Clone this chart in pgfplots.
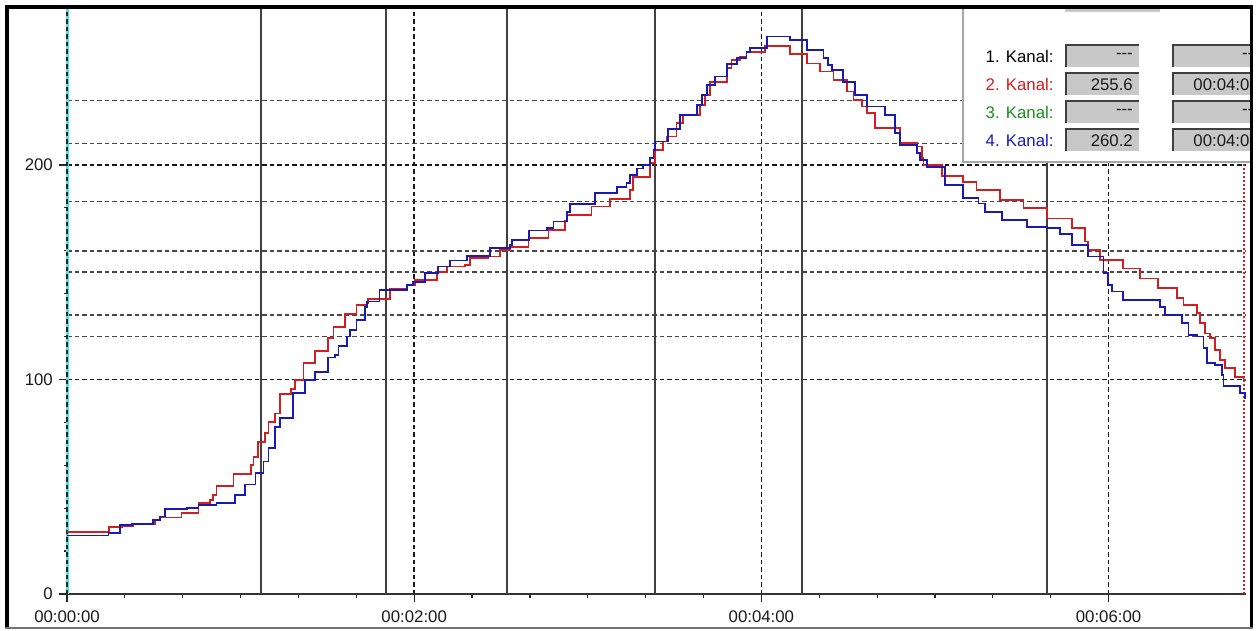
\documentclass[border=0pt]{standalone}
\usepackage{pgfplots}
\pgfplotsset{compat=1.18}
\usepackage{fontspec}
\setmainfont{Liberation Sans}

\definecolor{chred}{RGB}{210,30,30}
\definecolor{chblue}{RGB}{25,25,180}
\definecolor{chgreen}{RGB}{30,140,30}
\definecolor{cursorcyan}{RGB}{80,225,225}
\definecolor{fieldgray}{RGB}{200,200,200}
\newcommand{\fs}{\fontsize{16.8}{19}\selectfont}

\begin{document}
\begin{tikzpicture}[x=1pt,y=1pt]
\useasboundingbox (0,0) rectangle (1256,630);
\fill[white] (0,0) rectangle (1256,630);

\begin{axis}[
    at={(67pt,36pt)}, anchor=south west,
    scale only axis, width=1179pt, height=585pt,
    xmin=0, xmax=407.5, ymin=0, ymax=272.7,
    axis lines*=left,
    x axis line style={black!80, line width=1.2pt},
    y axis line style={draw=none},
    tick align=outside,
    major tick length=8pt, minor tick length=3.5pt,
    tick style={black!85, line width=1.2pt},
    xtick={0,120,240,360},
    xticklabels={00:00:00,00:02:00,00:04:00,00:06:00},
    minor x tick num=5,
    ytick={0,100,200},
    yticklabels={0,100,200},
    minor y tick num=4,
    every tick label/.append style={font=\fs, text=black!90},
    xticklabel style={anchor=north, inner sep=0pt, yshift=-9pt},
    yticklabel style={anchor=east, inner sep=0pt, xshift=-6pt},
    xmajorgrids, ymajorgrids,
    major grid style={black!90, line width=1.5pt, dash pattern=on 4.5pt off 3pt},
    extra y ticks={120,130,150,160,183,210,230},
    extra y tick labels={},
    extra y tick style={major tick length=0pt,
        major grid style={black!72, line width=1.5pt, dash pattern=on 4.5pt off 3pt}},
    extra x ticks={67.1,110.3,152.1,203.2,254.1,338.8},
    extra x tick labels={},
    extra x tick style={major tick length=0pt,
        major grid style={black!75, line width=1.6pt, solid}},
    clip=false,
]
% cursors
\draw[cursorcyan, line width=3pt] (axis cs:0,0) -- (axis cs:0,272.7);
\draw[black!85, line width=1.5pt, dash pattern=on 4.5pt off 3pt] (axis cs:0,0) -- (axis cs:0,272.7);
\draw[chred, line width=1.2pt, dash pattern=on 2pt off 2pt] (axis cs:406.8,0) -- (axis cs:406.8,272.7);

% Kanal 2
\addplot[const plot, chred, line width=1.7pt] coordinates {
(0,28.8) (14.6,31.1) (18.9,31.8) (22.8,32.6) (30.4,34.5) (32.1,35.7) (39.6,37.9)
(45.4,42.3) (49.4,43.8) (50.4,46.2) (51.7,50.2) (57.5,55.9) (63.5,60.0) (64.5,64.0)
(66.1,71.0) (68.4,74.9) (69.6,80.3) (71.9,84.2) (73.6,93.2) (77.5,95.5) (78.8,99.8)
(81.7,107.8) (85.7,113.3) (90.3,119.2) (92.1,124.3) (96.1,130.4) (100.1,134.7)
(103.6,135.5) (104.1,137.4) (111.6,142.1) (117.5,144.0) (120.3,146.4) (127.8,150.0)
(131.3,152.6) (137.6,153.4) (139.3,156.5) (145.6,157.3) (149.7,160.4) (153.1,161.9)
(159.5,165.8) (166.4,169.7) (172.1,174.0) (172.7,176.7) (181.3,180.6) (187.7,184.0)
(194.6,188.3) (195.7,194.5) (201.5,200.8) (203.3,207.0) (206.1,210.9) (207.3,213.2)
(210.7,219.4) (213.0,223.3) (218.8,228.0) (220.5,232.6) (222.3,238.8) (228.0,245.1)
(229.7,249.0) (232.6,250.5) (234.9,252.8) (241.3,255.6) (249.9,251.6) (255.7,247.3)
(260.3,243.5) (264.9,239.6) (269.5,234.2) (271.8,230.3) (274.7,227.2) (276.4,224.1)
(279.3,217.1) (287.9,210.1) (293.7,208.6) (295.4,203.1) (296.0,200.0) (302.4,194.9)
(309.8,192.2) (314.4,188.3) (322.5,183.7) (330.6,179.8) (338.6,175.1) (347.3,170.5)
(351.9,164.3) (353.0,160.4) (357.1,155.7) (365.1,151.8) (370.9,147.1) (377.2,142.5)
(383.6,137.9) (385.9,134.7) (390.5,130.9) (391.6,126.2) (393.3,121.5) (395.0,119.2)
(396.8,113.8) (398.5,109.1) (400.2,105.2) (403.7,101.3) (406.6,99.8) (407.5,99.8)
};
% Kanal 4
\addplot[const plot, chblue, line width=1.7pt] coordinates {
(0,27.3) (14.3,28.3) (18.3,32.2) (22.4,32.6) (29.8,34.5) (32.1,36.1) (33.9,39.5)
(41.4,40.0) (45.4,41.5) (51.7,42.3) (58.1,46.2) (61.5,51.0) (65.2,56.5) (67.9,61.7)
(69.6,67.9) (71.9,78.0) (73.6,81.9) (78.2,93.6) (82.3,99.8) (85.7,103.6) (90.3,110.3)
(92.6,111.4) (93.8,115.6) (96.7,120.0) (97.8,123.1) (100.1,127.7) (103.0,133.9)
(103.6,136.3) (108.0,141.7) (117.4,144.1) (119.5,145.6) (123.7,149.5) (128.3,152.6)
(132.4,155.5) (138.2,157.6) (146.2,161.2) (153.1,162.7) (153.7,165.0) (159.8,169.4)
(166.0,170.5) (168.1,173.6) (172.7,178.2) (173.9,181.8) (182.5,186.8) (190.0,189.6)
(193.4,191.5) (194.6,195.3) (196.9,198.4) (199.2,200.0) (201.5,203.1) (202.7,207.0)
(203.3,210.9) (207.8,216.8) (211.9,223.3) (217.7,228.0) (219.4,232.6) (221.1,237.3)
(224.0,241.2) (228.0,247.0) (231.5,249.7) (234.9,252.8) (236.1,254.4) (241.9,259.9)
(249.9,258.2) (255.7,253.6) (261.5,250.0) (263.0,246.5) (264.5,244.3) (268.3,238.8)
(272.4,232.6) (276.4,227.2) (282.7,223.3) (286.2,214.8) (287.9,209.3) (293.7,205.5)
(294.9,202.3) (297.2,199.2) (303.5,190.7) (309.8,184.5) (315.0,182.1) (317.3,178.2)
(323.1,174.4) (331.8,171.2) (338.6,170.5) (343.2,167.8) (347.3,162.7) (353.0,157.3)
(358.2,149.5) (359.9,144.1) (361.2,141.0) (365.1,137.1) (377.8,133.9) (379.6,130.1)
(385.3,126.2) (387.6,120.7) (390.5,120.0) (392.8,114.6) (393.9,107.6) (396.8,106.8)
(399.1,102.1) (399.7,97.0) (405.5,93.6) (407.2,91.2) (407.5,91.2)
};
\end{axis}

% readout panel and window frame, in screen pixels (y downwards)
\begin{scope}[yshift=630pt, y=-1pt]
  \begin{scope}
    \clip (9,9) rectangle (1251,628);
    \fill[white] (963,9) rectangle (1260,162);
    \draw[black!35, line width=1.5pt] (963,0) -- (963,162) -- (1260,162);
    \draw[white, line width=1pt] (965,0) -- (965,160);
    % top field sliver
    \fill[fieldgray] (1065,9) rectangle (1160,12.5);
    \draw[white, line width=1pt] (1065,13) -- (1160,13);
    \foreach \i/\lab/\col/\val/\tm in {
        0/1. Kanal:/black/{-}{-}{-}/{-}{-}{-},
        1/2. Kanal:/chred/255.6/00:04:03,
        2/3. Kanal:/chgreen/{-}{-}{-}/{-}{-}{-},
        3/4. Kanal:/chblue/260.2/00:04:03} {
      \pgfmathsetmacro{\ya}{44.5+28*\i}
      \pgfmathsetmacro{\yb}{\ya+23}
      \pgfmathsetmacro{\yc}{\ya+11.8}
      \node[anchor=west, inner sep=0pt, font=\fs, text=\col] at (985.5,\yc) {\lab};
      \fill[fieldgray] (1065,\ya) rectangle (1139,\yb);
      \draw[white, line width=1pt] (1065,\yb) -- (1139,\yb) -- (1139,\ya);
      \draw[black!75, line width=1.6pt] (1065.8,\yb) -- (1065.8,\ya+0.8) -- (1139,\ya+0.8);
      \node[anchor=east, inner sep=0pt, font=\fs, text=black!90] at (1133,\yc) {\val};
      \fill[fieldgray] (1172,\ya) rectangle (1290,\yb);
      \draw[white, line width=1pt] (1172,\yb) -- (1290,\yb);
      \draw[black!75, line width=1.6pt] (1172.8,\yb) -- (1172.8,\ya+0.8) -- (1290,\ya+0.8);
      \node[anchor=east, inner sep=0pt, font=\fs, text=black!90] at (1259,\yc) {\tm};
    }
  \end{scope}
  % window frame
  \fill[black] (5,5) rectangle (1253,9);
  \fill[black] (5,5) rectangle (9,628);
  \fill[black] (1250,5) rectangle (1253,628);
  \draw[black!55, line width=1.2pt] (5,628) -- (1253,628);
\end{scope}
\end{tikzpicture}
\end{document}
